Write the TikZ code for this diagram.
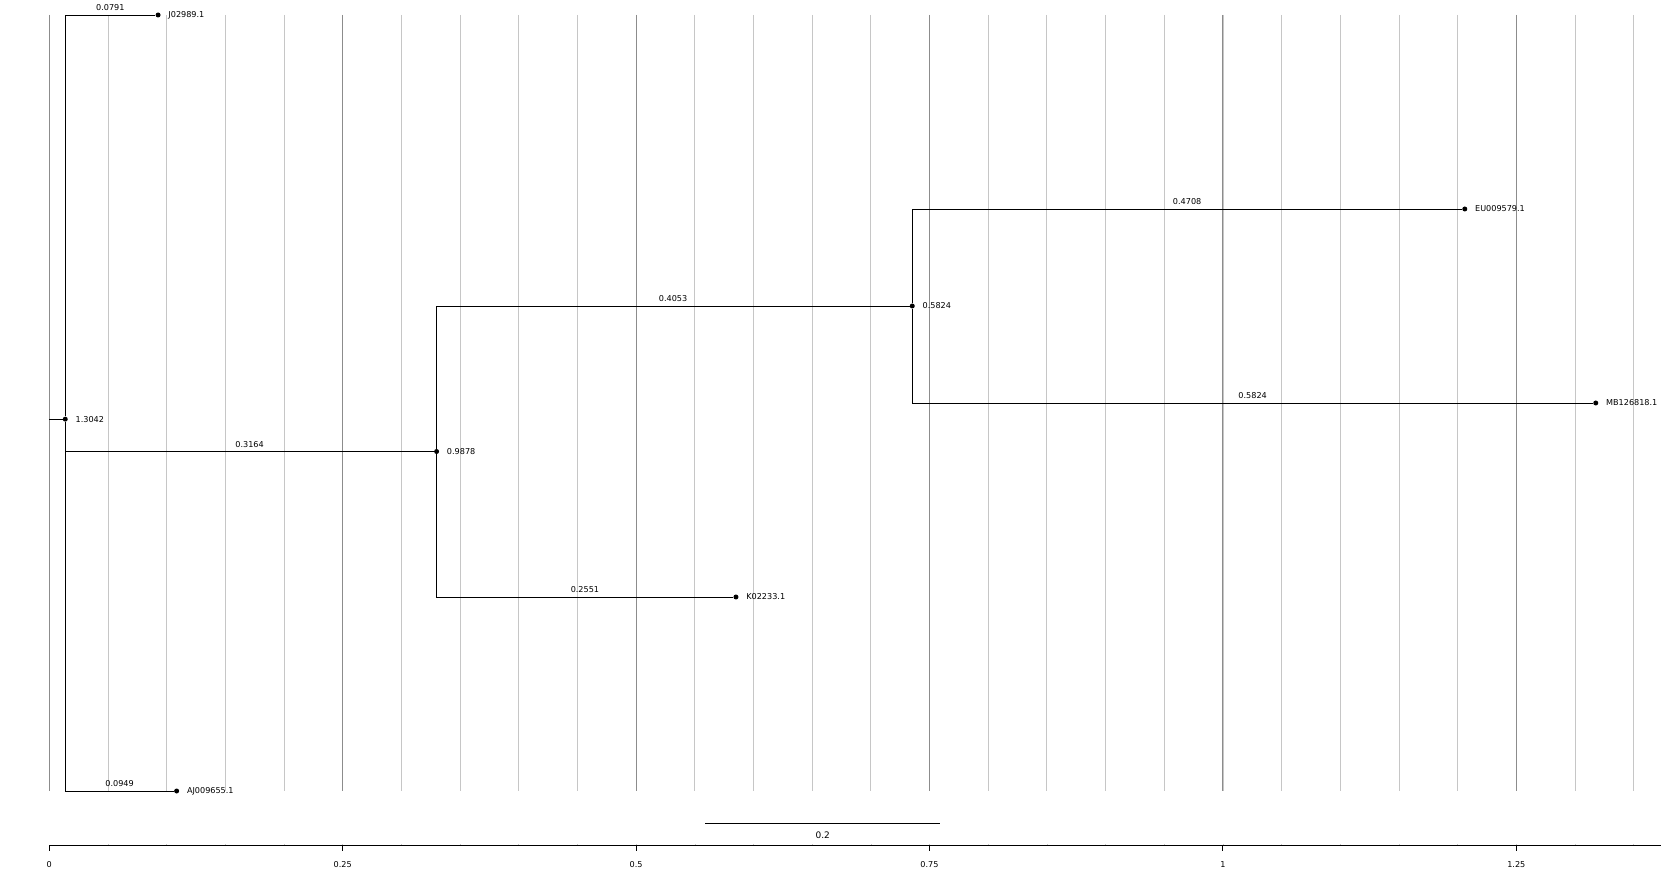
\documentclass[tikz,border=0pt]{standalone}
\usepackage{fontspec}
\setmainfont{DejaVu Sans}
\usepackage{xcolor}
\usetikzlibrary{positioning}
\definecolor{GridMajor}{HTML}{8C8C8C}
\definecolor{GridMinor}{HTML}{C6C6C6}

\begin{document}
\begin{tikzpicture}[
      x=1173.6pt, y=-194pt,
      font=\fontsize{8.1}{10}\selectfont,
      branch/.style={line width=0.9pt,draw=black},
      dot/.style={circle,fill=black,inner sep=0pt,minimum size=5pt},
      tiplab/.style={inner sep=0pt},
      blen/.style={above=3.5pt,inner sep=0pt},
      minorgrid/.style={draw=GridMinor,line width=0.9pt},
      majorgrid/.style={draw=GridMajor,line width=0.9pt},
      axisline/.style={line width=1pt,draw=black}
    ]
      \useasboundingbox (-0.042,-0.0773) rectangle (1.3733,4.4124);
      % grid
      \foreach \i in {0,...,27}
        \draw[minorgrid] (\i*0.05,0) -- (\i*0.05,4);
      \foreach \g in {0,0.25,...,1.25}
        \draw[majorgrid] (\g,0) -- (\g,4);
      % tree
      \coordinate (base) at (0,2.0833);
      \node[dot] (root) at (0.0136,2.0833) {};
      \node[dot] (nB) at (0.3300,2.25) {};
      \node[dot] (nA) at (0.7353,1.5) {};
      \node[dot] (J) at (0.0927,0) {};
      \node[dot] (EU) at (1.2061,1) {};
      \node[dot] (MB) at (1.3177,2) {};
      \node[dot] (K) at (0.5851,3) {};
      \node[dot] (AJ) at (0.1085,4) {};
      \node[tiplab,right=7.5pt of root] (root-lab) {1.3042};
      \node[tiplab,right=7.5pt of nB] (nB-lab) {0.9878};
      \node[tiplab,right=7.5pt of nA] (nA-lab) {0.5824};
      \node[tiplab,right=7.5pt of J] (J-lab) {J02989.1};
      \node[tiplab,right=7.5pt of EU] (EU-lab) {EU009579.1};
      \node[tiplab,right=7.5pt of MB] (MB-lab) {MB126818.1};
      \node[tiplab,right=7.5pt of K] (K-lab) {K02233.1};
      \node[tiplab,right=7.5pt of AJ] (AJ-lab) {AJ009655.1};
      \draw[branch] (base) -- (root);
      \draw[branch] (root) |- node[blen,pos=0.75] (bl-J) {0.0791} (J);
      \draw[branch] (root) |- node[blen,pos=0.75] (bl-nB) {0.3164} (nB);
      \draw[branch] (root) |- node[blen,pos=0.75] (bl-AJ) {0.0949} (AJ);
      \draw[branch] (nB) |- node[blen,pos=0.75] (bl-nA) {0.4053} (nA);
      \draw[branch] (nB) |- node[blen,pos=0.75] (bl-K) {0.2551} (K);
      \draw[branch] (nA) |- node[blen,pos=0.75] (bl-EU) {0.4708} (EU);
      \draw[branch] (nA) |- node[blen,pos=0.75] (bl-MB) {0.5824} (MB);
      % scale bar
      \coordinate (sb-l) at (0.559,4.1665);
      \coordinate (sb-r) at (0.759,4.1665);
      \draw[axisline] (sb-l) -- node[below=8.5pt,inner sep=0pt,font=\fontsize{9}{10}\selectfont] (sb-lab) {0.2} (sb-r);
      % axis
      \coordinate (ax-l) at (0,4.2835);
      \coordinate (ax-r) at (1.3733,4.2835);
      \foreach \i in {1,...,27}
        \draw[line width=0.6pt,draw=GridMinor] (\i*0.05,4.2835) -- ++(0pt,2pt);
      \draw[axisline] (ax-l) -- (ax-r);
      \foreach \g/\t [count=\k] in {0/0,0.25/0.25,0.5/0.5,0.75/0.75,1/1,1.25/1.25}
        \draw[axisline] (\g,4.2835) -- ++(0pt,-5pt) node[below=10pt,inner sep=0pt,anchor=north] (tk\k) {\t};
    \end{tikzpicture}
\end{document}
